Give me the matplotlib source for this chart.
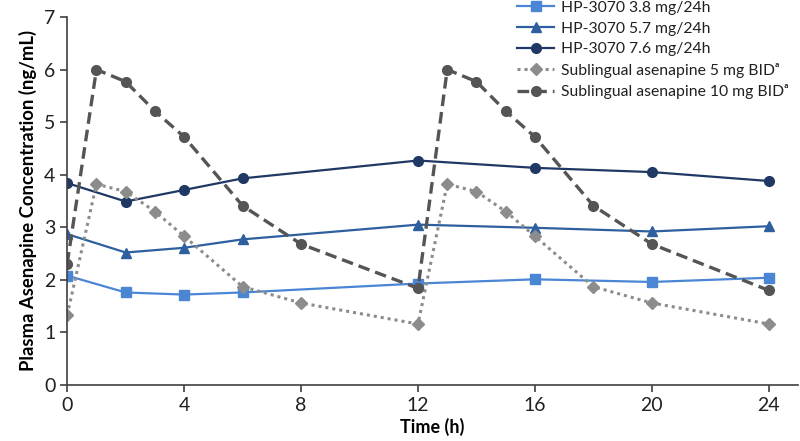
import matplotlib
matplotlib.use("Agg")
import matplotlib.pyplot as plt

plt.rcParams['font.family'] = ['Lato', 'DejaVu Sans']

t_patch = [0, 2, 4, 6, 12, 16, 20, 24]
hp38 = [2.08, 1.76, 1.72, 1.76, 1.93, 2.01, 1.96, 2.04]
hp57 = [2.87, 2.52, 2.61, 2.77, 3.05, 2.99, 2.92, 3.02]
hp76 = [3.84, 3.49, 3.71, 3.93, 4.27, 4.13, 4.05, 3.88]

t_sl = [0, 1, 2, 3, 4, 6, 8, 12, 13, 14, 15, 16, 18, 20, 24]
sl5 = [1.33, 3.82, 3.68, 3.30, 2.83, 1.87, 1.56, 1.16, 3.82, 3.68, 3.30, 2.83, 1.87, 1.56, 1.16]
sl10 = [2.31, 6.00, 5.77, 5.21, 4.72, 3.41, 2.68, 1.84, 6.00, 5.77, 5.21, 4.72, 3.41, 2.68, 1.80]

labels = ["HP-3070 3.8 mg/24h", "HP-3070 5.7 mg/24h", "HP-3070 7.6 mg/24h",
          "Sublingual asenapine 5 mg BID\u1d43",
          "Sublingual asenapine 10 mg BID\u1d43"]
xticks = [0, 4, 8, 12, 16, 20, 24]
yticks = [0, 1, 2, 3, 4, 5, 6, 7]

fig = plt.figure(figsize=(8, 4.41), dpi=100)
ax = fig.add_axes([0.084, 0.127, 0.9135, 0.8345])

ax.plot(t_patch, hp38, color='#4a86d4', lw=1.6, marker='s', ms=7, label=labels[0])
ax.plot(t_patch, hp57, color='#2e5f9e', lw=1.6, marker='^', ms=7, label=labels[1])
ax.plot(t_patch, hp76, color='#1f3864', lw=1.6, marker='o', ms=7, label=labels[2])
ax.plot(t_sl, sl5, color='#8c8c8c', lw=2.2, ls=(0, (1, 1.3)), marker='D', ms=6.5, label=labels[3])
ax.plot(t_sl, sl10, color='#555555', lw=2.4, ls=(0, (3.5, 1.8)), marker='o', ms=7, label=labels[4])

ax.set_xlim(0, 25)
ax.set_ylim(0, 7)
ax.set_xticks(xticks)
ax.set_yticks(yticks)
ax.tick_params(labelsize=14, length=5, color='#404040', width=1.2, labelcolor='#202020')
for s in ['top', 'right']:
    ax.spines[s].set_visible(False)
for s in ['left', 'bottom']:
    ax.spines[s].set_color('#404040')
    ax.spines[s].set_linewidth(1.2)

ax.set_xlabel("Time (h)", fontsize=13, fontweight='bold', labelpad=3)
ax.set_ylabel("Plasma Asenapine Concentration (ng/mL)", fontsize=13.3, fontweight='bold', labelpad=5)

leg = ax.legend(loc='upper left', bbox_to_anchor=(0.638, 1.012), bbox_transform=fig.transFigure,
                frameon=False, prop={'size': 11.3},
                handlelength=2.4, labelspacing=0.42, handletextpad=0.4, borderaxespad=0)
for txt in leg.get_texts():
    txt.set_color('#202020')

fig.savefig("out.png", dpi=100)
